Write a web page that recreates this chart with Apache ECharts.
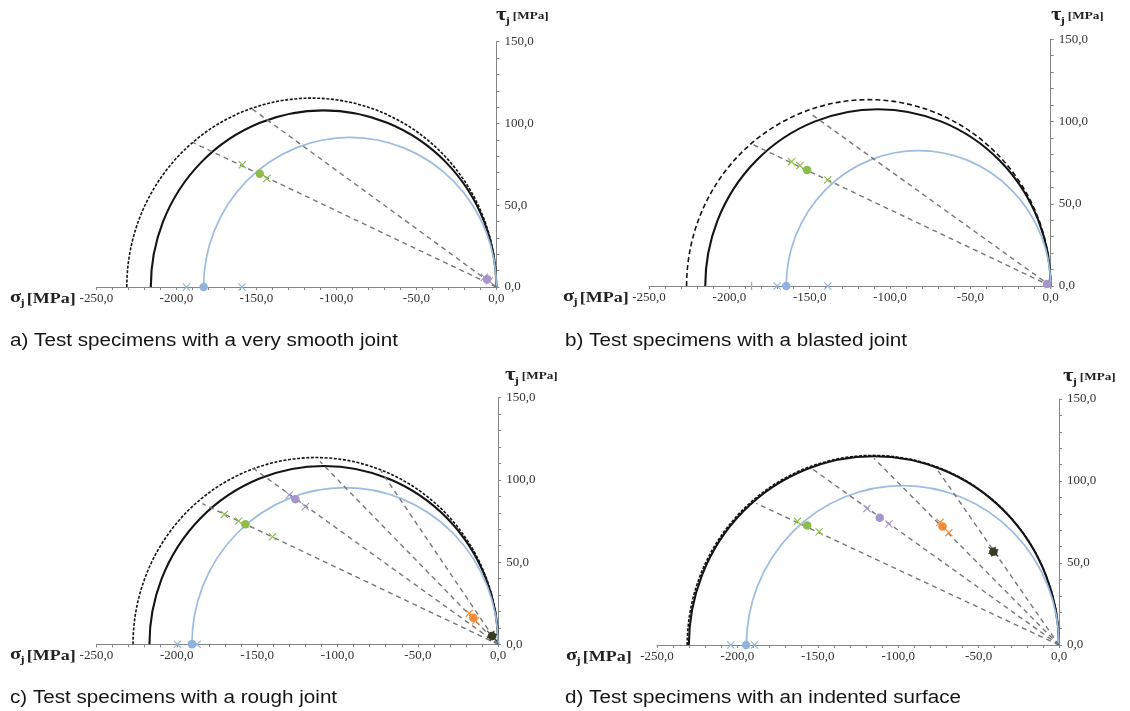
<!DOCTYPE html>
<html><head><meta charset="utf-8">
<script src="https://cdn.jsdelivr.net/npm/echarts@6/dist/echarts.min.js"></script>
<style>html,body{margin:0;padding:0;background:#fff}#c{width:1130px;height:711px}</style>
</head><body><div id="c"></div>
<script>
// ---------------- data ----------------
const xTickLabels = [-250, -200, -150, -100, -50, 0];
const yTickLabels = [0, 50, 100, 150];
const rayOrigin = [0, 0];
// colour index: 0 blue, 1 green, 2 purple, 3 orange, 4 dark
// radii of the Mohr semicircles: [outer envelope, black, blue]
const circlesA = [115.5, 108.0, 91.5];
const circlesB = [113.3, 107.5, 82.3];
const circlesC = [113.6, 108.5, 95.3];
const circlesD = [115.6, 115.1, 97.2];
// dashed rays: end points [σ, τ]
const raysA = [[-189.7, 88.4], [-152.8, 109.0]];
const raysB = [[-186.2, 86.4], [-150.2, 105.3]];
const raysC = [[-184.0, 85.5], [-152.4, 107.0], [-110.9, 111.2], [-73.0, 105.5]];
const raysD = [[-188.3, 86.4], [-153.3, 107.3], [-115.0, 113.8], [-75.5, 106.7]];
// mean values (dots): [σ, τ, colour]
const dotsA = [[-183.0, 0, 0], [-147.9, 69.2, 1], [-5.8, 4.8, 2]];
const dotsB = [[-164.6, 0, 0], [-151.6, 70.6, 1], [-2.2, 1.2, 2]];
const dotsC = [[-190.6, 0, 0], [-157.3, 73.0, 1], [-126.2, 88.2, 2], [-15.5, 16.2, 3], [-3.8, 5.1, 4]];
const dotsD = [[-194.6, 0, 0], [-156.6, 72.8, 1], [-111.5, 77.6, 2], [-72.4, 72.2, 3], [-40.8, 56.9, 4]];
// single results (crosses): [σ, τ, colour]
const crossesA = [[-193.7, 0, 0], [-159.0, 0, 0], [-158.8, 74.7, 1], [-143.5, 66.3, 1], [-7.5, 6.0, 2], [-4.5, 3.8, 2]];
const crossesB = [[-170.2, 0, 0], [-138.7, 0, 0], [-161.3, 75.6, 1], [-156.1, 73.2, 1], [-138.7, 64.5, 1], [-3.0, 1.8, 2], [-1.6, 0.8, 2]];
const crossesC = [[-199.6, 0, 0], [-187.3, 0, 0], [-170.4, 79.0, 1], [-161.5, 75.0, 1], [-140.4, 65.4, 1],
                  [-130.0, 90.8, 2], [-120.0, 83.7, 2], [-18.0, 18.8, 3], [-14.0, 14.3, 3], [-4.6, 6.0, 4], [-3.0, 4.2, 4]];
const crossesD = [[-204.1, 0, 0], [-189.4, 0, 0], [-162.7, 75.4, 1], [-149.2, 69.1, 1], [-119.4, 83.3, 2], [-105.8, 73.8, 2],
                  [-74.0, 74.8, 3], [-68.5, 68.5, 3], [-41.6, 57.6, 4], [-40.0, 56.2, 4]];
const barsB = [[-186.2, 0, 0]];
const captions = ['a) Test specimens with a very smooth joint', 'b) Test specimens with a blasted joint',
                  'c) Test specimens with a rough joint', 'd) Test specimens with an indented surface'];

// ---------------- styling / layout ----------------
const palette = ['#8fb3dc', '#8cbd4b', '#a597cc', '#f08c3c', '#3b3a22'];
const grids = [
  {left: 96.4, top: 41.7, width: 400, height: 245.3},
  {left: 649, top: 39.3, width: 401.7, height: 246.7},
  {left: 96.4, top: 397.7, width: 401.8, height: 246.6},
  {left: 657, top: 399, width: 402, height: 246}
];
const outerDash = [[3, 1.6], [5, 3], [3, 1.6], [3, 1.6]];
const CROSS = 'path://M1,0L5,4L9,0L10,1L6,5L10,9L9,10L5,6L1,10L0,9L4,5L0,1Z';
const fmt = v => v.toFixed(1).replace('.', ',');
const axisGray = '#858585';

const xAxes = [], yAxes = [], series = [];
const panels = [
  [circlesA, raysA, dotsA, crossesA],
  [circlesB, raysB, dotsB, crossesB],
  [circlesC, raysC, dotsC, crossesC],
  [circlesD, raysD, dotsD, crossesD]
];
panels.forEach((p, i) => {
  const [circles, rays, dots, crosses] = p;
  xAxes.push({
    type: 'value', gridIndex: i, min: xTickLabels[0], max: xTickLabels[xTickLabels.length - 1], interval: 10,
    position: 'bottom',
    axisLine: {onZero: false, lineStyle: {color: axisGray, width: 1}},
    axisTick: {length: 3, lineStyle: {color: axisGray}},
    splitLine: {show: false},
    axisLabel: {formatter: v => xTickLabels.includes(v) ? fmt(v) : '', fontFamily: 'Liberation Serif',
                fontSize: 13, color: '#333', margin: 5}
  });
  yAxes.push({
    type: 'value', gridIndex: i, min: yTickLabels[0], max: yTickLabels[yTickLabels.length - 1], interval: 10,
    position: 'right',
    axisLine: {show: true, onZero: false, lineStyle: {color: axisGray, width: 1}},
    axisTick: {show: true, length: 3, lineStyle: {color: axisGray}},
    splitLine: {show: false},
    axisLabel: {formatter: v => yTickLabels.includes(v) ? fmt(v) : '', fontFamily: 'Liberation Serif',
                fontSize: 13, color: '#333', margin: 8}
  });
  const dash = outerDash[i];
  series.push({
    type: 'custom', xAxisIndex: i, yAxisIndex: i, clip: false, silent: true, z: 2,
    data: circles.map((r, k) => [r, k]),
    renderItem: (params, api) => {
      const r = api.value(0), k = api.value(1);
      const L = api.coord([-2 * r, 0]), R = api.coord([0, 0]);
      const rx = (R[0] - L[0]) / 2, ry = api.size([0, r])[1];
      const styles = [
        {stroke: '#141414', lineWidth: 1.6, lineDash: dash},
        {stroke: '#141414', lineWidth: 2.1},
        {stroke: '#9dbce0', lineWidth: 1.7}
      ];
      return {
        type: 'path',
        shape: {pathData: 'M' + L[0] + ' ' + L[1] + ' A' + rx + ' ' + ry + ' 0 0 1 ' + R[0] + ' ' + R[1]},
        style: Object.assign({fill: 'none'}, styles[k])
      };
    }
  });
  series.push({
    type: 'lines', coordinateSystem: 'cartesian2d', xAxisIndex: i, yAxisIndex: i, silent: true, z: 3,
    lineStyle: {color: '#777', width: 1.4, type: [5, 4], opacity: 1},
    data: rays.map(e => ({coords: [rayOrigin, e]}))
  });
  series.push({
    type: 'scatter', xAxisIndex: i, yAxisIndex: i, silent: true, clip: false, z: 5,
    symbol: CROSS, symbolSize: 8, data: crosses,
    itemStyle: {color: q => palette[q.data[2]], opacity: 1}
  });
  series.push({
    type: 'scatter', xAxisIndex: i, yAxisIndex: i, silent: true, clip: false, z: 6,
    symbol: 'circle', symbolSize: 8.5, data: dots,
    itemStyle: {color: q => palette[q.data[2]], opacity: 1}
  });
});
series.push({
  type: 'scatter', xAxisIndex: 1, yAxisIndex: 1, silent: true, clip: false, z: 5,
  symbol: 'rect', symbolSize: [1.4, 8], data: barsB,
  itemStyle: {color: q => palette[q.data[2]], opacity: 1}
});

// ---------------- texts ----------------
const graphic = [];
const capPos = [[10, 341], [565, 341], [10, 698], [565, 698]];
captions.forEach((t, i) => graphic.push({
  type: 'text', x: capPos[i][0], y: capPos[i][1], scaleX: 1.18,
  style: {text: t, fontFamily: 'Liberation Sans', fontSize: 17.5, fill: '#151515', verticalAlign: 'middle'}
}));
const sigPos = [[10, 299], [563, 298], [10, 656], [566, 657]];
sigPos.forEach(p => graphic.push({
  type: 'group', x: p[0], y: p[1], scaleX: 1.2,
  children: [
    {type: 'text', x: 0, y: -1, style: {text: 'σ', fontFamily: 'Liberation Serif', fontWeight: 'bold', fontSize: 17, fill: '#222', verticalAlign: 'middle'}},
    {type: 'text', x: 8.5, y: 4, style: {text: 'j', fontFamily: 'Liberation Serif', fontWeight: 'bold', fontSize: 11, fill: '#222', verticalAlign: 'middle'}},
    {type: 'text', x: 14, y: 0, style: {text: '[MPa]', fontFamily: 'Liberation Serif', fontWeight: 'bold', fontSize: 15, fill: '#222', verticalAlign: 'middle'}}
  ]
}));
const tauPos = [[496, 16], [1051, 16], [505, 376], [1063, 377]];
tauPos.forEach(p => graphic.push({
  type: 'group', x: p[0], y: p[1], scaleX: 1.2,
  children: [
    {type: 'text', x: 0, y: -1, style: {text: 'τ', fontFamily: 'Liberation Serif', fontWeight: 'bold', fontSize: 19, fill: '#222', verticalAlign: 'middle'}},
    {type: 'text', x: 8, y: 5, style: {text: 'j', fontFamily: 'Liberation Serif', fontWeight: 'bold', fontSize: 11, fill: '#222', verticalAlign: 'middle'}},
    {type: 'text', x: 14, y: 0, style: {text: '[MPa]', fontFamily: 'Liberation Serif', fontWeight: 'bold', fontSize: 11, fill: '#222', verticalAlign: 'middle'}}
  ]
}));

const chart = echarts.init(document.getElementById('c'), null, {renderer: 'canvas'});
chart.setOption({
  animation: false,
  backgroundColor: '#fff',
  grid: grids,
  xAxis: xAxes,
  yAxis: yAxes,
  series: series,
  graphic: graphic
});
</script>
</body></html>
